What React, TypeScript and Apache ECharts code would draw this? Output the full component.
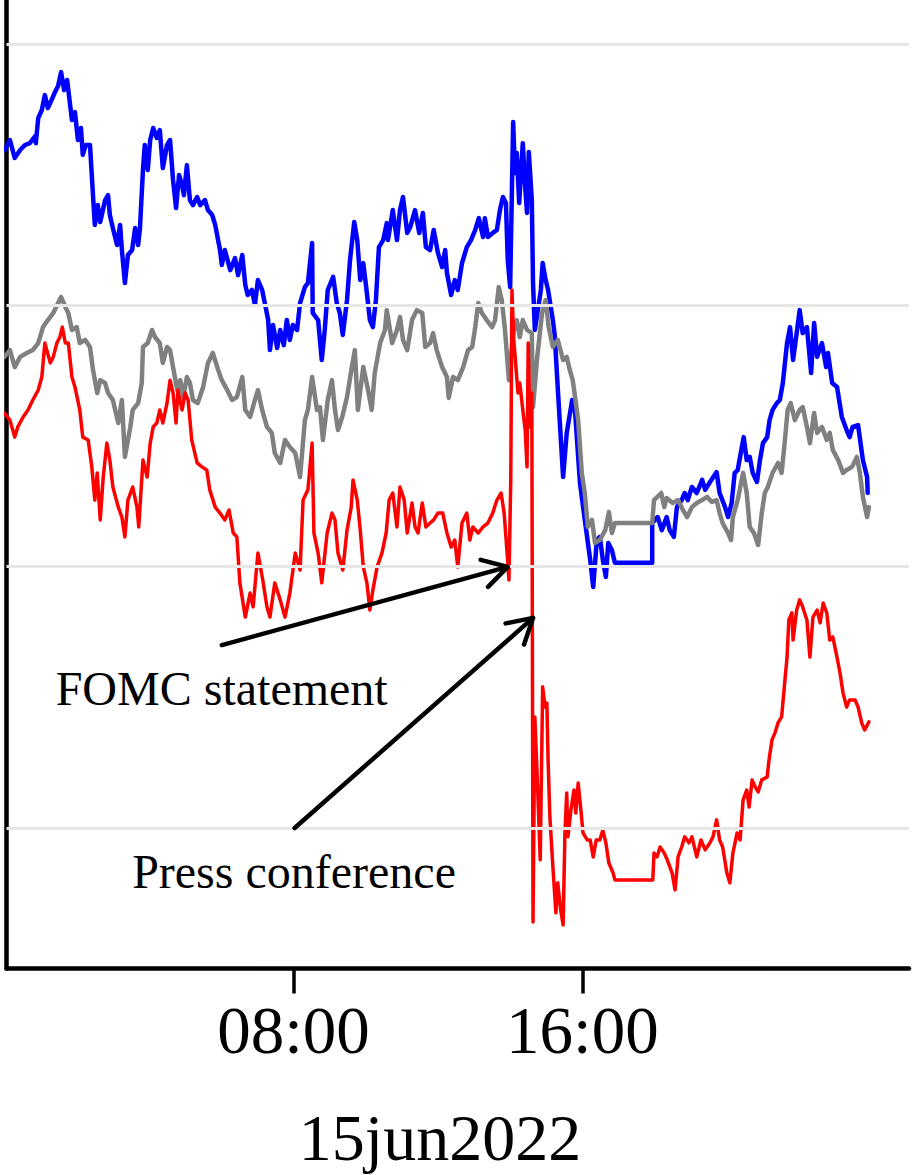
import React, { useEffect, useRef } from "react";
import * as echarts from "echarts";

// x: minutes after 00:00 on 15jun2022; y: index units (gridlines at 0,100,200,300)
const blue: [number, number][] = [
  [0,259.5],[9,263.3],[17,256.4],[26,259.5],[34,261.4],[42,262.1],[51,264.8],[52,262.1],[56,271.7],[62,274.8],[67,280.5],[72,275.5],[76,277.5],[84,281.7],[89,284.0],[94,289.3],[99,282.4],[104,286.3],[109,276.7],[112,271.0],[117,274.0],[122,263.3],[127,267.9],[130,257.6],[135,261.4],[142,261.4],[147,242.2],[150,230.8],[155,238.4],[159,231.9],[167,240.2],[172,242.2],[175,234.6],[180,229.6],[187,223.1],[192,230.8],[195,221.2],[200,208.6],[205,219.3],[212,221.2],[217,229.6],[222,223.1],[225,229.6],[230,251.8],[233,261.4],[238,251.8],[242,263.3],[247,267.9],[253,264.1],[258,267.1],[263,252.6],[270,261.4],[275,263.3],[280,248.0],[285,237.3],[290,249.9],[295,246.1],[298,242.2],[303,253.7],[308,240.3],[313,238.4],[320,241.5],[325,238.4],[333,240.3],[338,236.5],[345,234.6],[350,230.8],[358,221.2],[361,215.5],[366,221.2],[375,213.5],[383,218.1],[388,211.6],[395,219.3],[400,207.8],[404,204.0],[411,205.9],[416,200.2],[421,209.7],[428,205.9],[433,200.2],[438,194.4],[441,182.9],[446,192.5],[453,183.7],[458,190.6],[464,184.8],[469,194.4],[474,186.8],[479,192.5],[486,190.6],[491,200.9],[499,207.0],[504,208.6],[511,223.9],[512,197.1],[521,194.4],[527,179.1],[532,190.6],[537,205.9],[546,210.9],[552,200.9],[557,197.1],[562,188.7],[569,202.1],[574,217.4],[581,231.9],[586,225.0],[591,209.7],[596,216.2],[602,204.7],[607,194.4],[612,191.7],[617,202.1],[622,222.3],[629,225.0],[635,231.5],[637,225.0],[645,236.5],[652,225.0],[657,236.5],[662,241.5],[669,227.7],[674,230.0],[682,236.5],[689,227.7],[695,235.4],[700,222.3],[707,221.2],[713,228.9],[720,220.1],[727,214.7],[732,221.2],[735,212.4],[742,204.0],[748,209.7],[753,205.9],[760,216.2],[768,222.3],[775,225.0],[782,228.9],[788,233.4],[795,226.2],[798,233.4],[803,226.2],[811,227.7],[818,228.9],[823,236.5],[828,241.5],[833,239.2],[836,217.4],[840,207.0],[845,270.2],[848,250.7],[851,258.3],[855,239.2],[861,262.1],[865,245.3],[868,235.4],[871,258.7],[876,240.3],[878,208.6],[881,190.6],[886,198.2],[891,205.9],[894,216.2],[899,209.7],[903,205.9],[911,194.4],[914,188.7],[919,168.8],[928,134.3],[934,151.2],[943,163.8],[948,158.8],[956,132.0],[964,117.9],[973,102.6],[978,92.2],[984,110.2],[989,111.4],[994,102.6],[999,96.1],[1003,109.1],[1009,106.4],[1014,101.5],[1076,101.5],[1076,116.7],[1085,119.0],[1092,114.0],[1100,119.0],[1105,114.0],[1112,111.4],[1117,122.8],[1125,125.5],[1130,128.2],[1135,125.5],[1142,130.5],[1150,128.2],[1159,133.2],[1164,129.4],[1172,132.4],[1183,136.2],[1188,128.2],[1197,122.8],[1202,119.0],[1208,124.4],[1213,135.9],[1218,137.0],[1225,145.8],[1228,149.6],[1233,140.8],[1238,142.0],[1243,135.9],[1250,132.4],[1255,140.8],[1260,147.3],[1267,149.6],[1271,156.1],[1276,160.0],[1283,162.6],[1288,163.8],[1293,170.3],[1300,185.6],[1305,191.7],[1310,179.1],[1316,189.4],[1321,198.2],[1326,189.4],[1333,191.7],[1340,174.1],[1345,193.3],[1350,180.3],[1358,185.6],[1365,176.4],[1368,181.8],[1375,170.3],[1383,168.8],[1391,157.3],[1399,152.3],[1404,149.6],[1409,153.5],[1418,154.2],[1426,140.8],[1433,134.3],[1434,128.2]
];

const grey: [number, number][] = [
  [0,180.3],[9,182.9],[17,176.4],[26,180.3],[37,181.8],[47,182.9],[56,185.6],[64,191.7],[72,194.4],[81,197.1],[89,200.9],[94,203.2],[101,199.4],[106,197.1],[112,190.6],[120,191.7],[125,185.6],[134,186.8],[142,184.1],[147,175.3],[154,166.5],[159,171.4],[167,170.3],[172,166.5],[180,163.8],[189,155.0],[195,163.8],[200,142.0],[209,153.5],[213,160.0],[222,162.6],[228,170.3],[230,184.1],[238,185.6],[245,190.6],[250,187.9],[258,185.6],[263,178.0],[270,184.1],[275,182.9],[280,176.4],[287,167.6],[292,171.4],[297,164.9],[303,172.6],[308,170.3],[313,163.8],[321,162.6],[330,168.8],[338,178.0],[346,181.8],[355,175.3],[361,171.4],[370,167.6],[378,163.8],[386,164.9],[395,172.6],[400,160.0],[408,157.3],[416,163.8],[421,167.6],[428,160.0],[436,153.5],[444,151.2],[449,143.5],[458,139.7],[466,148.5],[474,145.8],[483,143.5],[491,134.3],[499,156.1],[504,160.0],[511,172.6],[519,160.0],[524,161.1],[529,148.5],[537,163.8],[544,171.4],[549,160.0],[554,152.3],[561,157.3],[569,164.9],[577,176.4],[582,182.9],[587,160.0],[596,176.4],[604,167.6],[610,160.0],[615,174.1],[624,185.6],[632,190.6],[635,198.2],[644,185.6],[652,190.6],[657,195.6],[662,186.8],[669,182.9],[677,194.4],[685,198.2],[694,197.1],[699,184.1],[707,185.6],[712,189.4],[718,182.9],[727,176.4],[735,172.6],[738,164.6],[745,172.6],[753,171.4],[762,176.4],[770,182.9],[777,184.1],[782,191.7],[787,200.9],[793,197.1],[801,194.4],[810,191.7],[815,194.4],[821,207.0],[826,202.1],[831,191.7],[838,171.4],[845,189.4],[851,194.4],[856,187.9],[861,194.4],[868,190.6],[876,189.4],[878,161.1],[885,180.3],[893,197.1],[899,202.1],[904,191.7],[911,184.1],[919,186.8],[928,179.1],[934,180.3],[939,175.3],[944,171.4],[953,156.1],[959,135.9],[964,128.2],[969,115.2],[976,117.9],[981,109.1],[989,110.2],[998,114.0],[1004,120.9],[1009,112.9],[1014,116.7],[1076,116.7],[1079,125.5],[1091,128.2],[1096,122.8],[1100,126.3],[1110,124.4],[1119,125.5],[1127,121.7],[1134,119.0],[1142,122.8],[1150,124.4],[1159,125.5],[1167,126.7],[1175,124.8],[1183,125.5],[1188,120.5],[1193,116.7],[1202,112.9],[1207,110.2],[1210,119.0],[1218,125.5],[1227,135.9],[1233,128.2],[1238,115.2],[1245,112.9],[1252,108.3],[1258,120.5],[1263,128.2],[1268,130.5],[1276,135.9],[1285,139.7],[1291,135.9],[1296,147.3],[1301,160.0],[1306,162.6],[1313,156.1],[1321,160.0],[1326,161.1],[1333,153.5],[1338,147.3],[1345,158.8],[1350,151.2],[1358,153.5],[1366,148.5],[1371,151.2],[1376,144.7],[1385,140.8],[1393,135.9],[1399,137.0],[1408,138.2],[1416,142.0],[1421,135.9],[1426,126.7],[1433,119.0],[1436,122.8]
];

const red: [number, number][] = [
  [0,158.8],[9,156.1],[17,149.6],[22,153.5],[31,157.3],[39,160.0],[47,163.8],[56,167.6],[62,172.6],[67,185.6],[76,178.0],[81,180.3],[87,185.6],[92,187.9],[96,191.7],[101,185.6],[106,185.6],[112,172.6],[117,168.8],[125,160.0],[130,149.6],[139,148.5],[145,138.2],[150,125.5],[154,135.9],[159,117.9],[164,134.3],[170,147.3],[175,140.8],[180,130.5],[189,122.8],[195,119.0],[200,111.4],[205,125.5],[213,130.5],[220,122.8],[223,115.2],[230,140.8],[237,134.3],[242,147.3],[247,153.5],[253,155.0],[258,160.0],[263,155.0],[270,162.6],[275,171.4],[280,166.5],[285,155.0],[288,167.6],[295,160.0],[300,166.5],[305,163.8],[311,148.5],[320,139.7],[328,138.2],[336,137.0],[341,129.4],[350,122.8],[358,120.5],[366,117.9],[373,121.7],[380,112.9],[386,111.4],[391,93.8],[400,80.7],[408,89.9],[413,84.6],[421,105.2],[429,94.9],[436,84.6],[441,80.7],[449,93.8],[458,87.3],[466,80.7],[474,89.9],[483,105.2],[491,98.7],[496,125.5],[504,129.4],[511,147.3],[514,112.9],[521,105.2],[527,93.8],[536,112.9],[544,120.5],[549,117.9],[554,105.2],[562,98.7],[569,114.0],[576,122.8],[579,133.2],[586,125.5],[591,114.0],[596,99.9],[602,93.8],[607,83.4],[612,91.1],[619,99.9],[627,105.2],[634,112.9],[639,125.5],[645,128.2],[652,115.2],[657,130.5],[664,125.5],[669,112.9],[677,124.4],[682,115.2],[687,112.9],[694,124.4],[700,115.2],[707,116.7],[713,117.9],[720,120.5],[728,120.5],[735,112.9],[742,107.5],[748,110.2],[753,99.9],[760,116.7],[768,120.5],[773,110.2],[778,115.2],[787,112.9],[795,115.2],[803,116.7],[811,120.5],[818,125.5],[825,128.2],[830,120.5],[835,105.2],[838,94.9],[841,133.2],[843,205.9],[846,186.8],[850,175.3],[853,166.5],[856,170.3],[861,160.0],[865,152.3],[868,138.2],[870,185.6],[873,153.5],[876,166.5],[878,-36.0],[881,42.5],[885,19.5],[890,-12.2],[894,54.0],[898,46.3],[901,47.8],[903,26.0],[906,4.2],[911,-14.9],[916,-32.5],[919,-21.0],[924,-31.4],[928,-37.1],[931,-1.9],[934,13.4],[936,-3.4],[941,6.9],[946,14.5],[949,5.7],[953,17.2],[958,5.7],[961,-1.9],[968,-4.6],[973,-4.6],[978,-11.1],[983,-4.6],[989,-4.6],[994,-0.8],[999,-5.7],[1004,-13.4],[1011,-17.2],[1014,-19.9],[1077,-19.9],[1079,-9.6],[1084,-11.1],[1089,-7.3],[1096,-9.6],[1101,-12.2],[1109,-17.2],[1114,-23.7],[1119,-11.1],[1125,-7.3],[1130,-3.4],[1137,-5.7],[1142,-3.4],[1150,-11.1],[1157,-4.6],[1164,-8.4],[1172,-5.7],[1177,-3.4],[1183,3.1],[1188,-4.6],[1193,-7.3],[1200,-17.2],[1205,-21.0],[1210,-9.6],[1217,-1.9],[1222,-4.6],[1227,10.7],[1233,14.5],[1237,8.0],[1242,18.4],[1247,15.7],[1252,13.8],[1258,18.4],[1267,19.5],[1270,26.0],[1275,33.7],[1280,36.4],[1285,40.2],[1291,42.5],[1295,52.8],[1300,65.4],[1303,79.6],[1308,82.3],[1310,71.9],[1316,83.4],[1321,87.3],[1326,84.6],[1333,79.6],[1338,65.4],[1343,80.7],[1350,83.4],[1355,78.5],[1360,86.1],[1366,82.3],[1371,71.9],[1376,73.1],[1383,65.4],[1388,59.3],[1393,51.7],[1399,46.3],[1404,49.0],[1413,49.0],[1418,46.3],[1424,40.2],[1429,37.5],[1436,40.6]
];

const gridValues = [0, 100, 200, 300];
const xTickValues = [480, 960];
const dateLabel = "15jun2022";

// annotations: label anchor (left, middle), arrow start and arrow tip, in data coordinates
const annotations = [
  { text: "FOMC statement", label: [85, 53.4], from: [361, 70.0], to: [836, 99.9] },
  { text: "Press conference", label: [212, -16.6], from: [482, 0.0], to: [878, 80.4] },
];

const FONT = '"Liberation Serif", "Times New Roman", serif';

function fmtTime(v: number) {
  const h = Math.floor(v / 60);
  const m = Math.round(v - h * 60);
  return String(h).padStart(2, "0") + ":" + String(m).padStart(2, "0");
}

export default function App() {
  const ref = useRef<HTMLDivElement>(null);
  useEffect(() => {
    if (!ref.current) return;
    const chart = echarts.init(ref.current, null, { renderer: "svg" });
    const lineSeries = (name: string, data: [number, number][], color: string, width: number, z: number) => ({
      name,
      type: "line",
      data,
      showSymbol: false,
      symbol: "none",
      z,
      lineStyle: { color, width, join: "round", cap: "round" },
      itemStyle: { color },
      silent: true,
    });
    chart.setOption({
      animation: false,
      grid: { left: 6.5, right: 3, top: 0, bottom: 206.5 },
      xAxis: {
        type: "value",
        min: 3.3,
        max: 1502.6,
        axisLine: { show: true, onZero: false, lineStyle: { color: "#000", width: 4.5 } },
        axisTick: { show: true, customValues: xTickValues, length: 25, lineStyle: { color: "#000", width: 3.5 } },
        axisLabel: {
          show: true,
          customValues: xTickValues,
          formatter: (v: number) => fmtTime(v),
          fontFamily: FONT,
          fontSize: 67,
          color: "#000",
          margin: 28,
        },
        splitLine: { show: false },
      },
      yAxis: {
        type: "value",
        min: -53.8,
        max: 316.9,
        axisLine: { show: true, onZero: false, lineStyle: { color: "#000", width: 4.5 } },
        axisTick: { show: false },
        axisLabel: { show: false },
        splitLine: { show: false },
      },
      series: [
        {
          type: "line",
          data: [],
          z: 1,
          silent: true,
          markLine: {
            silent: true,
            symbol: ["none", "none"],
            label: { show: false },
            lineStyle: { color: "#e6e6e6", width: 3, type: "solid" },
            data: gridValues.map((v) => ({ yAxis: v })),
          },
        },
        lineSeries("blue", blue, "#0000ff", 4.5, 2),
        lineSeries("grey", grey, "#808080", 4.5, 3),
        lineSeries("red", red, "#ff0000", 3.5, 4),
      ],
    });

    const graphics: any[] = [];
    annotations.forEach((a) => {
      const p0 = chart.convertToPixel({ gridIndex: 0 }, a.from) as number[];
      const p1 = chart.convertToPixel({ gridIndex: 0 }, a.to) as number[];
      const pl = chart.convertToPixel({ gridIndex: 0 }, a.label) as number[];
      const dx = p1[0] - p0[0];
      const dy = p1[1] - p0[1];
      const L = Math.hypot(dx, dy);
      const bx = -dx / L;
      const by = -dy / L;
      const len = 28;
      const ang = Math.PI / 6;
      const c = Math.cos(ang);
      const s = Math.sin(ang);
      const a1 = [p1[0] + len * (bx * c - by * s), p1[1] + len * (bx * s + by * c)];
      const a2 = [p1[0] + len * (bx * c + by * s), p1[1] + len * (-bx * s + by * c)];
      graphics.push({
        type: "line",
        z: 10,
        shape: { x1: p0[0], y1: p0[1], x2: p1[0], y2: p1[1] },
        style: { stroke: "#000", lineWidth: 4.5, lineCap: "round" },
      });
      graphics.push({
        type: "polyline",
        z: 10,
        shape: { points: [a1, p1, a2] },
        style: { stroke: "#000", lineWidth: 4.5, lineCap: "round", lineJoin: "round", fill: null },
      });
      graphics.push({
        type: "text",
        z: 10,
        x: pl[0],
        y: pl[1],
        style: {
          text: a.text,
          font: `48px ${FONT}`,
          fill: "#000",
          textAlign: "left",
          textVerticalAlign: "middle",
        },
      });
    });
    graphics.push({
      type: "text",
      z: 10,
      x: 440,
      y: 1137,
      style: {
        text: dateLabel,
        font: `66px ${FONT}`,
        fill: "#000",
        textAlign: "center",
        textVerticalAlign: "middle",
      },
    });
    chart.setOption({ graphic: graphics });
    return () => chart.dispose();
  }, []);
  return (
    <div
      ref={ref}
      style={{ position: "absolute", left: 0, top: 0, width: 912, height: 1175, background: "#fff" }}
    />
  );
}
